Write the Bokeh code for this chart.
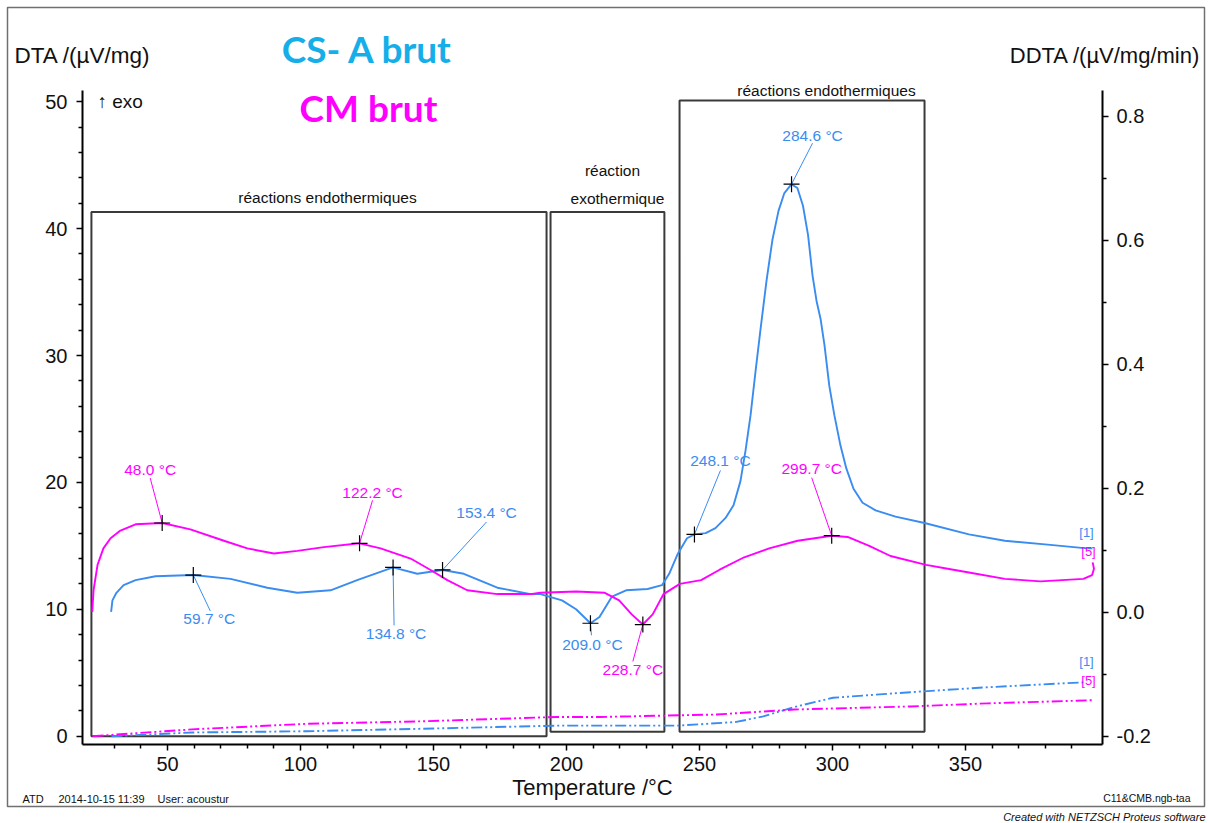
from bokeh.plotting import figure
from bokeh.models import (Range1d, LinearAxis, FixedTicker, PrintfTickFormatter,
                          Label, ColumnDataSource)
from bokeh.core.properties import value
from bokeh.embed import file_html
from bokeh.resources import INLINE

# ---------------- data ----------------
# DTA curve, sample "CS- A brut" (left axis, µV/mg)
dta_cs_T = [28.8, 29.3, 30.8, 33.5, 38.0, 45.5, 59.7, 73.7, 87.5, 98.8, 111.3, 121.3,
            134.8, 143.9, 153.4, 161.4, 174.0, 186.5, 190.2, 198.3, 203.6, 209.0, 212.4,
            217.1, 222.4, 230.5, 235.9, 238.6, 241.9, 245.3, 248.1, 252.3, 256.0, 259.8,
            262.8, 265.4, 267.3, 269.2, 271.1, 272.9, 275.2, 277.4, 279.7, 281.9, 284.6,
            286.8, 288.9, 290.8, 292.5, 294.0, 295.5, 297.0, 298.8, 300.7, 303.0, 305.2,
            307.9, 311.3, 316.2, 323.7, 334.6, 351.3, 364.8, 380.9, 395.6, 397.7]
dta_cs_V = [9.8, 10.7, 11.3, 11.9, 12.3, 12.6, 12.7, 12.4, 11.7, 11.3, 11.5, 12.3,
            13.3, 12.8, 13.1, 12.8, 11.7, 11.2, 11.2, 10.7, 10.0, 8.9, 9.4,
            11.0, 11.5, 11.6, 11.9, 12.8, 14.4, 15.6, 15.9, 16.0, 16.4, 17.2,
            18.2, 20.1, 22.5, 25.3, 28.8, 32.0, 35.9, 39.1, 41.4, 42.8, 43.5,
            43.2, 41.8, 39.5, 36.3, 34.3, 32.9, 30.8, 27.6, 25.3, 22.9, 21.1,
            19.5, 18.4, 17.8, 17.3, 16.8, 15.9, 15.4, 15.1, 14.8, 14.8]

# DTA curve, sample "CM brut"
dta_cm_T = [21.7, 22.2, 23.7, 25.9, 28.6, 32.3, 38.0, 48.0, 58.6, 71.2, 80.0, 90.0,
            98.8, 108.8, 122.2, 130.1, 141.4, 148.9, 155.2, 162.7, 174.0, 186.5, 190.2,
            203.6, 214.4, 219.8, 224.5, 228.7, 232.4, 236.5, 242.6, 250.6, 257.4, 266.8,
            276.2, 286.9, 299.7, 305.7, 313.8, 321.8, 335.2, 343.3, 351.3, 364.8, 378.2,
            394.3, 397.6, 398.3, 397.8]
dta_cm_V = [9.8, 11.5, 13.5, 14.8, 15.6, 16.2, 16.7, 16.8, 16.3, 15.4, 14.8, 14.4,
            14.6, 14.9, 15.2, 14.8, 14.0, 13.1, 12.3, 11.5, 11.2, 11.2, 11.3,
            11.4, 11.3, 10.7, 9.6, 8.8, 9.6, 11.2, 12.0, 12.3, 13.1, 14.1,
            14.8, 15.4, 15.8, 15.7, 15.0, 14.2, 13.5, 13.2, 12.9, 12.4, 12.2,
            12.4, 12.7, 13.2, 13.7]

# DDTA curves (right axis, µV/mg/min)
ddta_cs_T = [28.9, 59.2, 102.4, 145.7, 196.1, 212.8, 241.9, 263.8, 274.0, 285.6, 300.2,
             329.3, 358.5, 394.9]
ddta_cs_V = [-0.200, -0.194, -0.192, -0.188, -0.183, -0.183, -0.183, -0.177, -0.168,
             -0.153, -0.138, -0.129, -0.121, -0.113]
ddta_cm_T = [21.8, 59.2, 102.4, 145.7, 196.1, 212.8, 256.4, 285.6, 329.3, 358.5, 397.7]
ddta_cm_V = [-0.200, -0.189, -0.180, -0.176, -0.169, -0.169, -0.165, -0.157, -0.152,
             -0.147, -0.142]

# marked peaks
peaks_cs_T = [59.7, 134.8, 153.4, 209.0, 248.1, 284.6]
peaks_cs_V = [12.7, 13.3, 13.1, 8.9, 15.9, 43.5]
peaks_cm_T = [48.0, 122.2, 228.7, 299.7]
peaks_cm_V = [16.8, 15.2, 8.8, 15.8]

# label offsets (screen px from the cross): text dx, dy, leader-end dx, dy
cs_offsets = [(16, 43, 17, 36), (3, 66, 1, 58), (44, -57, 44, -48), (2, 21, 1, 12),
              (26, -74, 26, -64), (21, -49, 21, -41)]
cm_offsets = [(-12, -54, -12, -45), (13, -51, 13, -43), (-10, 45, -10, 37),
              (-20, -67, -20, -58)]

x_ticks = [50, 100, 150, 200, 250, 300, 350]
x_minor = [t for t in range(30, 400, 10) if t % 50 != 0]
left_ticks = [0, 10, 20, 30, 40, 50]
left_minor = [t for t in range(2, 50, 2) if t % 10 != 0]
right_ticks = [-0.2, 0.0, 0.2, 0.4, 0.6, 0.8]
right_minor = [-0.1, 0.1, 0.3, 0.5, 0.7]

# temperature-zone boxes
box_left = [21.4, 194.0, 242.5]
box_right = [192.5, 236.8, 334.6]
box_top = [41.3, 41.3, 50.1]
box_bottom = [0.0, 0.35, 0.35]

BLUE = "#3a8cf0"
MAG = "#ff00ff"
FONT = "Liberation Sans"

# ---------------- layout (frame = whole canvas) ----------------
W, H = 1208, 823
FL, FR, FT, FB = 82, 1102, 90, 744          # plot area in pixels
PX_PER_T = 2.66                              # px per °C
T_AT_167 = 50.0                              # 50 °C tick sits at x = 167 px
PX_PER_V = 12.69                             # px per µV/mg
Y_ZERO = 735.7                               # DTA = 0 at y px
PX_PER_R = 620.0                             # px per µV/mg/min
R_ZERO = 611.7                               # DDTA = 0 at y px


def X(px):
    return T_AT_167 + (px - 167) / PX_PER_T


def Y(py):
    return (Y_ZERO - py) / PX_PER_V


def R(py):
    return (R_ZERO - py) / PX_PER_R


p = figure(width=W, height=H, x_range=Range1d(X(0), X(W)), y_range=Range1d(Y(H), Y(0)),
           output_backend="svg", toolbar_location=None, title=None, min_border=0)
p.extra_y_ranges = {"ddta": Range1d(R(H), R(0))}
p.outline_line_color = None
p.xgrid.visible = False
p.ygrid.visible = False
p.background_fill_color = "white"
p.border_fill_color = "white"


def style_axis(ax):
    ax.axis_line_width = 2
    ax.axis_line_color = "black"
    ax.major_tick_in = 0
    ax.major_tick_out = 6
    ax.minor_tick_in = 0
    ax.minor_tick_out = 4
    ax.major_tick_line_width = 1.5
    ax.minor_tick_line_width = 1.5
    ax.major_tick_line_color = "black"
    ax.minor_tick_line_color = "black"
    ax.major_label_text_font = FONT
    ax.major_label_text_font_size = "20px"
    ax.major_label_text_color = "#111111"


xa = p.xaxis[0]
xa.ticker = FixedTicker(ticks=x_ticks, minor_ticks=x_minor)
style_axis(xa)
xa.major_label_standoff = 6
xa.fixed_location = Y(FB)
xa.bounds = (X(FL), X(FR))

ya = p.yaxis[0]
ya.ticker = FixedTicker(ticks=left_ticks, minor_ticks=left_minor)
style_axis(ya)
ya.major_label_standoff = 9
ya.fixed_location = X(FL)
ya.bounds = (Y(FB), Y(FT))

ra = LinearAxis(y_range_name="ddta",
                ticker=FixedTicker(ticks=right_ticks, minor_ticks=right_minor),
                formatter=PrintfTickFormatter(format="%.1f"))
style_axis(ra)
ra.major_label_standoff = 8
ra.fixed_location = X(FR)
ra.bounds = (R(FB), R(FT))
p.add_layout(ra, "right")

# outer report border
p.quad(left=[X(7)], right=[X(1204)], top=[Y(7)], bottom=[Y(806)],
       fill_alpha=0, line_color="#707070", line_width=1.5)

# boxes
p.quad(left=box_left, right=box_right, top=box_top, bottom=box_bottom,
       fill_alpha=0, line_color="#3a3a3a", line_width=2)

# curves
p.line(dta_cs_T, dta_cs_V, line_color=BLUE, line_width=1.9, line_join="round")
p.line(dta_cm_T, dta_cm_V, line_color=MAG, line_width=1.9, line_join="round")
p.line(ddta_cs_T, ddta_cs_V, y_range_name="ddta", line_color=BLUE, line_width=1.9,
       line_dash="11 3 2 3 2 3")
p.line(ddta_cm_T, ddta_cm_V, y_range_name="ddta", line_color=MAG, line_width=1.9,
       line_dash="11 3 2 3 2 3")


def peak_labels(Ts, Vs, offs, color):
    tx = [t + o[0] / PX_PER_T for t, o in zip(Ts, offs)]
    ty = [v - o[1] / PX_PER_V for v, o in zip(Vs, offs)]
    lx = [t + o[2] / PX_PER_T for t, o in zip(Ts, offs)]
    ly = [v - o[3] / PX_PER_V for v, o in zip(Vs, offs)]
    src = ColumnDataSource(dict(T=Ts, V=Vs, tx=tx, ty=ty, lx=lx, ly=ly,
                                label=["%.1f °C" % t for t in Ts]))
    p.segment(x0="T", y0="V", x1="lx", y1="ly", source=src, line_color=color, line_width=1)
    p.text(x="tx", y="ty", text="label", source=src, text_color=color,
           text_font=value(FONT), text_font_size="15.5px",
           text_align="center", text_baseline="middle")
    p.scatter(x="T", y="V", source=src, marker="cross", size=16,
              line_color="black", line_width=1.2)


peak_labels(peaks_cs_T, peaks_cs_V, cs_offsets, BLUE)
peak_labels(peaks_cm_T, peaks_cm_V, cm_offsets, MAG)


def L(px, py, text, size, color="#111111", align="left", font=FONT, style="normal"):
    p.add_layout(Label(x=X(px), y=Y(py), text=text, text_font=font,
                       text_font_size=size, text_color=color, text_align=align,
                       text_baseline="middle", text_font_style=style))


L(14, 55, "DTA /(µV/mg)", "22.5px")
L(1200, 55, "DDTA /(µV/mg/min)", "22px", align="right")
L(367, 48, "CS- A brut", "37px", color="#15aee8", align="center", font="Lato", style="bold")
L(368, 107, "CM brut", "37px", color=MAG, align="center", font="Lato", style="bold")
L(97, 101, "↑ exo", "19px")
L(327, 197, "réactions endothermiques", "15.5px", align="center")
L(612, 170, "réaction", "15.5px", align="center")
L(617, 198, "exothermique", "15.5px", align="center")
L(826, 90, "réactions endothermiques", "15.5px", align="center")
L(592, 787, "Temperature /°C", "22px", align="center")
L(22, 798, "ATD", "11px")
L(58, 798, "2014-10-15 11:39", "11px")
L(157, 798, "User: acoustur", "11px")
L(1190, 797, "C11&CMB.ngb-taa", "10.5px", align="right")
L(1205, 816, "Created with NETZSCH Proteus software", "11px", align="right", style="italic")

# curve end tags
L(1086, 532, "[1]", "13px", color=BLUE, align="center")
L(1088, 551, "[5]", "13px", color=MAG, align="center")
L(1086, 661, "[1]", "13px", color=BLUE, align="center")
L(1088, 680, "[5]", "13px", color=MAG, align="center")

open("out.html", "w").write(file_html(p, INLINE))
